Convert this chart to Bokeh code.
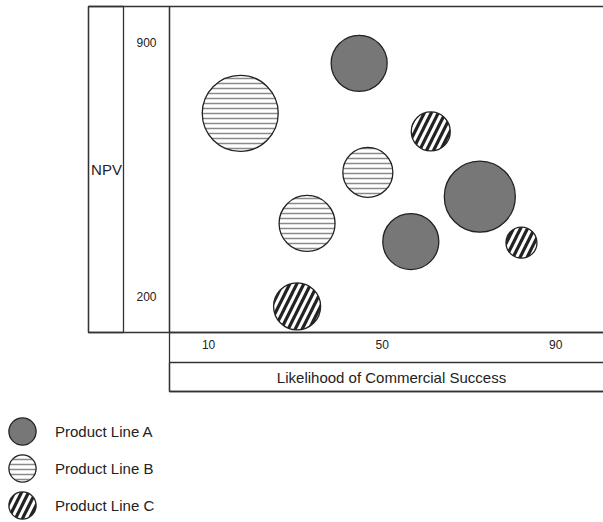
from bokeh.plotting import figure
from bokeh.models import (BoxAnnotation, FixedTicker, Legend, LegendItem, ColumnDataSource,
                          LinearAxis, Label)
from bokeh.embed import file_html
from bokeh.resources import INLINE

# ---- data ----
a_x = [44.7, 56.6, 72.5]
a_y = [843, 351, 475]
a_size = [56, 56, 71]

b_x = [17.3, 46.7, 32.7]
b_y = [705, 542, 401]
b_size = [76, 50, 56]

c_x = [61.2, 82.1, 30.4]
c_y = [655, 348, 172]
c_size = [39, 31, 47]

x_ticks = [10, 50, 90]
y_ticks = [200, 900]
series_names = ["Product Line A", "Product Line B", "Product Line C"]
x_title = "Likelihood of Commercial Success"
y_title = "NPV"

FONT = "Liberation Sans"
W, H = 603, 522
LINE = "#333333"
TXT = "#222222"

# plot area inside the canvas (px) and the data extent it shows
PL, PR, PT, PB = 169, 603, 6, 332
X0, X1, Y0, Y1 = 1, 101, 100, 1000
kx = (PR - PL) / (X1 - X0)
ky = (PB - PT) / (Y1 - Y0)
x_range = (X0 - PL / kx, X1 + (W - PR) / kx)
y_range = (Y0 - (H - PB) / ky, Y1 + PT / ky)

p = figure(width=W, height=H, x_range=x_range, y_range=y_range,
           x_axis_location=None, y_axis_location=None,
           min_border=0, output_backend="svg", toolbar_location=None)
p.outline_line_color = None
p.grid.visible = False
p.background_fill_color = "white"
p.border_fill_color = "white"

def style_axis(ax, standoff):
    ax.axis_line_color = None
    ax.major_tick_line_color = None
    ax.minor_tick_line_color = None
    ax.major_tick_out = 0
    ax.major_tick_in = 0
    ax.major_label_standoff = standoff
    ax.major_label_text_font = FONT
    ax.major_label_text_font_size = "12px"
    ax.major_label_text_color = TXT

xa = LinearAxis(fixed_location=Y0, ticker=FixedTicker(ticks=x_ticks))
style_axis(xa, 7)
p.add_layout(xa, "below")

ya = LinearAxis(fixed_location=X0, ticker=FixedTicker(ticks=y_ticks))
style_axis(ya, 13)
ya.major_label_orientation = "horizontal"
p.add_layout(ya, "left")

# axis titles, centred in their boxes
p.add_layout(Label(x=X0 + (391 - PL) / kx, y=Y0 - (377 - PB) / ky, text=x_title,
                   text_align="center", text_baseline="middle", text_font=FONT,
                   text_font_size="15px", text_color=TXT))
p.add_layout(Label(x=X0 - (PL - 106) / kx, y=(Y0 + Y1) / 2, text=y_title,
                   text_align="center", text_baseline="middle", text_font=FONT,
                   text_font_size="15px", text_color=TXT))

# ---- box lines (canvas px) ----
def cbox(l, r, t, b):
    return BoxAnnotation(left=l, right=r, top=t, bottom=b,
                         left_units="canvas", right_units="canvas",
                         top_units="canvas", bottom_units="canvas",
                         fill_color=None, fill_alpha=0,
                         line_color=LINE, line_alpha=1, line_width=1.3)

for box in [cbox(169, 612, 6, 332), cbox(88, 169, 6, 332), cbox(88, 123, 6, 332),
            cbox(169, 612, 332, 391), cbox(169, 612, 362, 391)]:
    p.add_layout(box)

# ---- bubbles ----
common = dict(width="size", height="size", width_units="screen", height_units="screen",
              line_color="#222222", line_width=1.3)

ra = p.ellipse(x="x", y="y", source=ColumnDataSource(dict(x=a_x, y=a_y, size=a_size)),
               fill_color="#777777", **common)
rb = p.ellipse(x="x", y="y", source=ColumnDataSource(dict(x=b_x, y=b_y, size=b_size)),
               fill_color="white", hatch_pattern="horizontal_line", hatch_color="#8a8a8a",
               hatch_weight=1.5, hatch_scale=5, **common)
rc = p.ellipse(x="x", y="y", source=ColumnDataSource(dict(x=c_x, y=c_y, size=c_size)),
               fill_color="white", hatch_pattern="right_diagonal_line", hatch_color="#222222",
               hatch_weight=3.2, hatch_scale=14, **common)

legend = Legend(items=[LegendItem(label=series_names[0], renderers=[ra]),
                       LegendItem(label=series_names[1], renderers=[rb]),
                       LegendItem(label=series_names[2], renderers=[rc])],
                location=(5, 0), orientation="vertical",
                glyph_width=34, glyph_height=34, spacing=3, padding=0, margin=0,
                label_standoff=16, label_text_font=FONT, label_text_font_size="15px",
                label_text_color=TXT, background_fill_alpha=0,
                border_line_color=None)
p.add_layout(legend, "center")

open("out.html", "w").write(file_html(p, INLINE))
